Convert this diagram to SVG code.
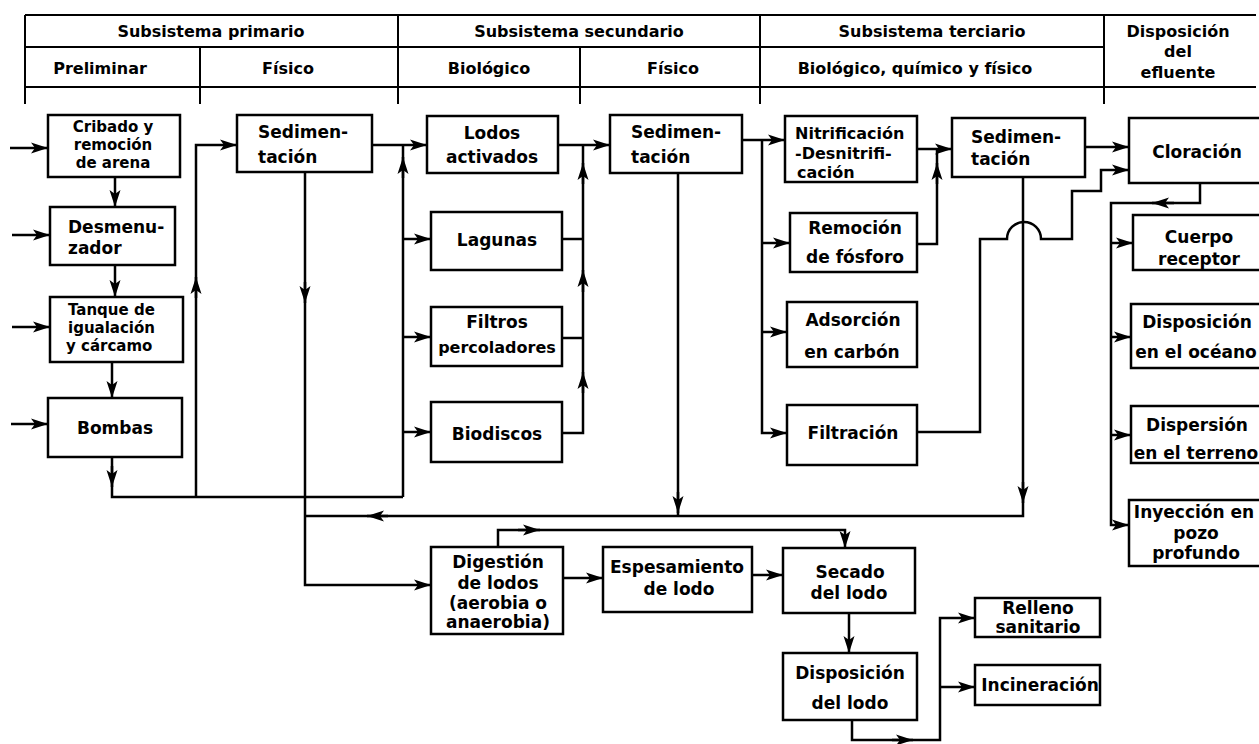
<svg xmlns="http://www.w3.org/2000/svg" width="1259" height="744" viewBox="0 0 1259 744">
<defs>
<marker id="ah" markerWidth="18" markerHeight="12" refX="17" refY="6" orient="auto" markerUnits="userSpaceOnUse">
<path d="M0,0.5 L17,6 L0,11.5 L4,6 Z" fill="#000"/>
</marker>
<style>
.bx{fill:#fff;stroke:#000;stroke-width:2.5}
.t{font-family:"DejaVu Sans","Liberation Sans",sans-serif;font-weight:bold;font-size:17px;fill:#000;text-anchor:middle}
.s{text-anchor:start}
.sm{font-size:16px}
.xs{font-size:15px}
.h{font-family:"DejaVu Sans","Liberation Sans",sans-serif;font-weight:bold;font-size:16px;fill:#000;text-anchor:middle}
.ln{fill:none;stroke:#000;stroke-width:2.5}
.hl{fill:none;stroke:#000;stroke-width:2}
.a{marker-end:url(#ah)}
</style>
</defs>
<rect width="1259" height="744" fill="#fff"/>

<g id="header">
<path class="hl" d="M25,15 H1256 M25,47 H1104 M25,87 H1256 M25,15 V104 M200,47 V104 M398,15 V104 M580,47 V104 M760,15 V104 M1104,15 V104"/>
<text class="h" x="211" y="37">Subsistema primario</text>
<text class="h" x="579" y="37">Subsistema secundario</text>
<text class="h" x="932" y="37">Subsistema terciario</text>
<text class="h" x="1178" y="37">Disposición</text>
<text class="h" x="1178" y="57">del</text>
<text class="h" x="1178" y="78">efluente</text>
<text class="h" x="100" y="74">Preliminar</text>
<text class="h" x="288" y="74">Físico</text>
<text class="h" x="489" y="74">Biológico</text>
<text class="h" x="673" y="74">Físico</text>
<text class="h" x="915" y="74">Biológico, químico y físico</text>
</g>

<g id="connectors">
<path class="ln a" d="M10,148 H48"/>
<path class="ln a" d="M12,235 H50"/>
<path class="ln a" d="M12,327 H50"/>
<path class="ln a" d="M11,424 H48"/>
<path class="ln a" d="M115,177 V207"/>
<path class="ln a" d="M115,265 V297"/>
<path class="ln a" d="M112,362 V398"/>
<path class="ln" d="M112,457 V497 H403"/>
<path class="ln a" d="M112,466 V487"/>
<path class="ln a" d="M196,497 V145 H237"/>
<path class="ln a" d="M196,298 V277"/>
<path class="ln" d="M403,497 V145"/>
<path class="ln a" d="M403,178 V157"/>
<path class="ln a" d="M372,145 H427"/>
<path class="ln a" d="M403,239 H431"/>
<path class="ln a" d="M403,337 H431"/>
<path class="ln a" d="M403,432 H431"/>
<path class="ln a" d="M558,145 H610"/>
<path class="ln" d="M562,239 H583"/>
<path class="ln" d="M562,338 H583"/>
<path class="ln" d="M562,433 H583 V145"/>
<path class="ln a" d="M583,184 V163"/>
<path class="ln a" d="M583,292 V270"/>
<path class="ln a" d="M583,393 V372"/>
<path class="ln a" d="M742,140 H785"/>
<path class="ln a" d="M762,140 V433 H787"/>
<path class="ln a" d="M762,243 H790"/>
<path class="ln a" d="M762,332 H787"/>
<path class="ln" d="M678,173 V516"/>
<path class="ln a" d="M678,492 V513"/>
<path class="ln" d="M1023,177 V516 H305"/>
<path class="ln a" d="M1023,482 V503"/>
<path class="ln a" d="M388,516 H367"/>
<path class="ln a" d="M305,172 V585 H431"/>
<path class="ln a" d="M305,282 V303"/>
<path class="ln a" d="M917,149 H952"/>
<path class="ln" d="M917,244 H937 V149"/>
<path class="ln a" d="M937,184 V163"/>
<path class="ln a" d="M1085,147 H1129"/>
<path class="ln a" d="M917,432 H980 V239 H1007 A17,17 0 0 1 1041,239 H1072 V191 H1101 V170 H1129"/>
<path class="ln a" d="M1200,183 V203 H1111 V525 H1129"/>
<path class="ln a" d="M1174,203 H1152"/>
<path class="ln a" d="M1111,243 H1133"/>
<path class="ln a" d="M1111,337 H1131"/>
<path class="ln a" d="M1111,435 H1131"/>
<path class="ln a" d="M498,547 V530 H845 V548"/>
<path class="ln a" d="M518,530 H540"/>
<path class="ln a" d="M563,578 H603"/>
<path class="ln a" d="M752,575 H783"/>
<path class="ln a" d="M849,613 V653"/>
<path class="ln a" d="M852,720 V740 H940 V618 H975"/>
<path class="ln a" d="M940,687 H975"/>
<path class="ln a" d="M892,740 H913"/>
</g>

<g id="cribado"><rect class="bx" x="48" y="115" width="132" height="62"/>
<text class="t xs" x="113" y="132">Cribado y</text><text class="t xs" x="113" y="150">remoción</text><text class="t xs" x="113" y="168">de arena</text></g>
<g id="desmenuzador"><rect class="bx" x="50" y="207" width="125" height="58"/>
<text class="t s" x="68" y="233">Desmenu-</text><text class="t s" x="68" y="254">zador</text></g>
<g id="tanque"><rect class="bx" x="50" y="297" width="133" height="65"/>
<text class="t s xs" x="68" y="315">Tanque de</text><text class="t s xs" x="68" y="333">igualación</text><text class="t s xs" x="66" y="351">y cárcamo</text></g>
<g id="bombas"><rect class="bx" x="48" y="398" width="134" height="59"/>
<text class="t" x="115" y="434">Bombas</text></g>
<g id="sedimentacion1"><rect class="bx" x="237" y="115" width="135" height="57"/>
<text class="t s" x="258" y="138">Sedimen-</text><text class="t s" x="258" y="163">tación</text></g>
<g id="lodos"><rect class="bx" x="427" y="116" width="131" height="57"/>
<text class="t" x="492" y="139">Lodos</text><text class="t" x="492" y="163">activados</text></g>
<g id="lagunas"><rect class="bx" x="431" y="212" width="131" height="58"/>
<text class="t" x="497" y="246">Lagunas</text></g>
<g id="filtros"><rect class="bx" x="431" y="307" width="131" height="59"/>
<text class="t" x="497" y="328">Filtros</text><text class="t sm" x="497" y="353">percoladores</text></g>
<g id="biodiscos"><rect class="bx" x="431" y="402" width="131" height="60"/>
<text class="t" x="497" y="440">Biodiscos</text></g>
<g id="sedimentacion2"><rect class="bx" x="610" y="115" width="132" height="58"/>
<text class="t s" x="631" y="138">Sedimen-</text><text class="t s" x="631" y="163">tación</text></g>
<g id="nitrificacion"><rect class="bx" x="785" y="116" width="132" height="66"/>
<text class="t s sm" x="795" y="139">Nitrificación</text><text class="t s sm" x="795" y="159">-Desnitrifi-</text><text class="t s sm" x="797" y="178">cación</text></g>
<g id="remocion"><rect class="bx" x="790" y="213" width="127" height="59"/>
<text class="t" x="855" y="234">Remoción</text><text class="t" x="855" y="263">de fósforo</text></g>
<g id="adsorcion"><rect class="bx" x="787" y="302" width="130" height="65"/>
<text class="t" x="853" y="326">Adsorción</text><text class="t" x="852" y="358">en carbón</text></g>
<g id="filtracion"><rect class="bx" x="787" y="405" width="130" height="60"/>
<text class="t" x="853" y="439">Filtración</text></g>
<g id="sedimentacion3"><rect class="bx" x="952" y="118" width="133" height="59"/>
<text class="t s" x="971" y="143">Sedimen-</text><text class="t s" x="971" y="165">tación</text></g>
<g id="cloracion"><rect class="bx" x="1129" y="118" width="135" height="65"/>
<text class="t" x="1197" y="158">Cloración</text></g>
<g id="cuerpo"><rect class="bx" x="1133" y="215" width="131" height="55"/>
<text class="t" x="1199" y="243">Cuerpo</text><text class="t" x="1199" y="265">receptor</text></g>
<g id="oceano"><rect class="bx" x="1131" y="304" width="133" height="64"/>
<text class="t" x="1197" y="328">Disposición</text><text class="t" x="1196" y="358">en el océano</text></g>
<g id="dispersion"><rect class="bx" x="1131" y="406" width="133" height="57"/>
<text class="t" x="1197" y="431">Dispersión</text><text class="t" x="1196" y="459">en el terreno</text></g>
<g id="inyeccion"><rect class="bx" x="1129" y="500" width="135" height="66"/>
<text class="t" x="1194" y="518">Inyección en</text><text class="t" x="1196" y="539">pozo</text><text class="t" x="1196" y="559">profundo</text></g>
<g id="digestion"><rect class="bx" x="431" y="547" width="132" height="87"/>
<text class="t" x="498" y="568">Digestión</text><text class="t" x="498" y="589">de lodos</text><text class="t" x="498" y="609">(aerobia o</text><text class="t" x="498" y="628">anaerobia)</text></g>
<g id="espesamiento"><rect class="bx" x="603" y="547" width="149" height="65"/>
<text class="t" x="677" y="573">Espesamiento</text><text class="t" x="679" y="595">de lodo</text></g>
<g id="secado"><rect class="bx" x="783" y="548" width="132" height="65"/>
<text class="t" x="850" y="578">Secado</text><text class="t" x="849" y="599">del lodo</text></g>
<g id="disposicion-lodo"><rect class="bx" x="783" y="653" width="134" height="67"/>
<text class="t" x="850" y="679">Disposición</text><text class="t" x="850" y="709">del lodo</text></g>
<g id="relleno"><rect class="bx" x="975" y="598" width="125" height="39"/>
<text class="t" x="1038" y="614">Relleno</text><text class="t" x="1038" y="633">sanitario</text></g>
<g id="incineracion"><rect class="bx" x="975" y="665" width="125" height="40"/>
<text class="t" x="1040" y="691">Incineración</text></g>
</svg>
